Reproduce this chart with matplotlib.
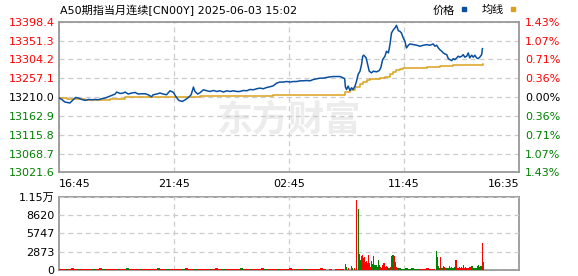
import numpy as np
import matplotlib
matplotlib.use("Agg")
import matplotlib.pyplot as plt
from matplotlib.lines import Line2D

plt.rcParams['font.family'] = ['DejaVu Sans', 'Noto Sans CJK SC']

# data ****************************************************************************************************************
title = "A50期指当月连续[CN00Y] 2025-06-03 15:02"
base_price = 13210.0
step = 47.1
time_labels = ["16:45", "21:45", "02:45", "11:45", "16:35"]
time_ticks = [0, 300, 600, 900, 1200]

# price line (minute index, price)
price_min = [1, 8, 16, 29, 38, 44, 51, 60, 69, 77, 86, 95, 103, 112, 121, 129, 138, 147, 151, 160,
             168, 173, 181, 190, 199, 207, 216, 225, 233, 242, 246, 255, 264, 272, 281, 290, 294, 299, 305, 313,
             322, 331, 338, 345, 351, 355, 362, 368, 377, 386, 394, 403, 412, 420, 429, 438, 446, 455, 464, 472,
             481, 490, 498, 507, 516, 524, 533, 542, 550, 559, 568, 576, 585, 594, 603, 611, 620, 629, 637, 646,
             655, 663, 672, 681, 689, 698, 707, 715, 724, 733, 745, 747, 750, 754, 759, 763, 767, 772, 776, 780,
             785, 789, 792, 795, 801, 804, 809, 815, 820, 828, 835, 839, 844, 850, 854, 859, 863, 867, 872, 876,
             880, 885, 889, 893, 897, 902, 906, 911, 915, 924, 933, 941, 950, 959, 967, 976, 980, 985, 989, 993,
             998, 1002, 1006, 1011, 1015, 1019, 1024, 1028, 1032, 1037, 1041, 1045, 1050, 1054, 1058, 1063, 1067,
             1071, 1076, 1080, 1084, 1089, 1093, 1097, 1102, 1104]
price = [13207.5, 13204.0, 13197.5, 13195.1, 13203.3, 13209.0, 13207.5, 13204.0, 13201.5, 13204.0,
         13203.3, 13204.0, 13203.3, 13205.8, 13207.5, 13210.7, 13214.0, 13217.5, 13222.5, 13219.0,
         13220.0, 13222.5, 13217.5, 13220.0, 13221.5, 13217.5, 13218.2, 13218.2, 13215.7, 13210.7,
         13215.7, 13217.5, 13220.0, 13217.5, 13215.7, 13225.7, 13223.9, 13221.5, 13211.5, 13201.5,
         13199.0, 13204.0, 13209.0, 13215.7, 13234.9, 13223.9, 13217.5, 13220.7, 13228.2, 13225.7,
         13223.9, 13226.4, 13223.9, 13225.7, 13222.5, 13225.7, 13223.9, 13225.7, 13223.9, 13223.9,
         13226.4, 13225.7, 13228.9, 13228.2, 13230.7, 13232.4, 13230.7, 13233.9, 13235.6, 13238.1,
         13244.9, 13247.4, 13247.4, 13248.8, 13247.4, 13248.8, 13248.8, 13250.6, 13250.6, 13251.3,
         13250.6, 13253.8, 13255.6, 13257.3, 13257.3, 13258.8, 13260.5, 13261.3, 13261.3, 13261.3,
         13256.3, 13234.9, 13228.9, 13237.4, 13226.4, 13233.2, 13228.9, 13237.4, 13249.8, 13266.3,
         13274.7, 13291.2, 13312.1, 13314.6, 13307.9, 13295.4, 13274.7, 13270.5, 13274.7, 13273.0,
         13276.2, 13283.0, 13303.6, 13312.1, 13324.5, 13320.3, 13341.0, 13370.1, 13378.3, 13382.6,
         13389.3, 13375.8, 13374.3, 13370.1, 13359.4, 13349.4, 13332.8, 13339.5, 13342.7, 13341.0,
         13339.5, 13337.0, 13339.5, 13341.0, 13339.5, 13342.7, 13337.0, 13339.5, 13332.8, 13328.5,
         13324.5, 13320.3, 13317.8, 13316.1, 13306.1, 13303.6, 13301.1, 13306.1, 13303.6, 13307.9,
         13312.1, 13309.6, 13312.1, 13316.1, 13309.6, 13312.1, 13320.3, 13307.9, 13314.6, 13309.6,
         13314.6, 13307.9, 13306.1, 13309.6, 13316.1, 13331.0]

# average line
avg_min = [0, 21, 69, 134, 173, 290, 368, 472, 558, 707, 746, 759, 772, 785, 793, 802, 811, 837, 850,
           863, 872, 880, 889, 897, 959, 993, 1028, 1063, 1105]
avg = [13207.5, 13204.5, 13203.3, 13205.8, 13209.0, 13210.0, 13212.5, 13212.5, 13215.0, 13215.7,
       13222.5, 13228.2, 13233.9, 13241.4, 13248.1, 13252.3, 13254.8, 13258.1, 13259.8, 13268.0,
       13273.0, 13278.0, 13281.2, 13283.0, 13284.7, 13287.2, 13289.7, 13291.2, 13292.9]

# volume: quiet night session (8 min buckets)
night_vol = [230, 200, 220, 190, 240, 210, 200, 230, 220, 190, 210, 200, 230, 240, 190, 200, 220, 210, 230, 200,
             190, 220, 240, 210, 200, 230, 220, 190, 210, 230, 200, 220, 240, 190, 210, 200, 230, 220, 200, 210,
             190, 240, 220, 200, 230, 210, 190, 220, 200, 230, 210, 240, 200, 220, 190, 230, 210, 200, 220, 240,
             200, 210, 230, 190, 220, 200, 240, 210, 230, 200, 220, 190, 210, 230, 200, 240, 220, 210, 200, 230,
             190, 220, 210, 230, 200, 240, 160, 0, 170, 0, 200, 230, 210]
night_dir = ("rrgrrrgrrr" "rgrrgrrrrg" "rrgrrrgrrr" "rrgrrgrrrr" "grrrgrrrrg"
             "rrrgrrrrrg" "rrgrrrrgrr" "rgrrrrrgrr" "grrrrrrrrr" "rrr")

# volume: morning open (per minute)
open_min = [746, 748, 754, 761, 764, 769, 774, 776, 780, 782, 785, 788, 790, 793, 795, 798, 801, 803, 806, 809,
            811, 814, 816, 819, 822, 824, 827, 829, 832, 835, 837, 840, 843, 845, 848, 850, 853, 856, 858, 861,
            863, 866, 869, 871, 874, 877, 879, 882]
open_vol = [958, 532, 240, 640, 270, 240, 10900, 5700, 9470, 2500, 1600, 2130, 2290, 1860, 2020, 1330, 1440,
            1060, 2390, 1060, 530, 1440, 900, 2130, 800, 800, 800, 530, 1600, 800, 530, 270, 800, 1060, 1120,
            530, 640, 530, 270, 370, 530, 2130, 2390, 2290, 2130, 1330, 530, 370]
open_dir = "ggrrgrrrgrgrrgrgrrrgrrgrgggrgrrgrrrgrrgrrrgrrgrg"[:48]

# volume: midday lull (8 min buckets)
lull_vol = [240, 230, 250, 220, 240, 230, 210, 230, 220, 240, 230, 220]
lull_dir = "gggggggrrrrr"

# volume: afternoon (per minute)
pm_min = [983, 985, 988, 991, 993, 996, 999, 1001, 1004, 1006, 1009, 1012, 1014, 1017, 1019, 1022, 1025, 1027,
          1030, 1032, 1035, 1038, 1040, 1043, 1045, 1048, 1051, 1053, 1056, 1058, 1061, 1064, 1066, 1069, 1071,
          1074, 1077, 1079, 1082, 1084, 1087, 1090, 1092, 1095, 1097, 1100, 1103, 1105]
pm_vol = [3030, 1970, 640, 240, 1970, 240, 240, 690, 530, 270, 270, 270, 270, 640, 370, 530, 370, 370, 530,
          1600, 1600, 370, 240, 530, 240, 530, 370, 800, 370, 530, 270, 370, 240, 530, 530, 690, 640, 270, 240,
          240, 270, 640, 800, 530, 640, 640, 4150, 1230]
pm_dir = "grggrgggrggrgrgrgrgrrgrgrgrgrgrgrrrggrgrgrgrggrg"[:48]

vol_top = 11493

# colours
c_price = "#0a50a1"
c_avg = "#dba11c"
c_up = "#ff0000"
c_dn = "#008000"
c_grid = "#cccccc"
c_frame = "#999999"


def dir_colors(d):
    return [c_up if ch == "r" else c_dn for ch in d]


fig = plt.figure(figsize=(5.78, 2.76), dpi=100)
ax = fig.add_axes([0.1016, 0.3754, 0.7968, 0.546])
axv = fig.add_axes([0.1016, 0.0217, 0.7968, 0.2663])

# main price panel
ax.text(0.5, 0.35, "东方财富", transform=ax.transAxes, ha="center", va="center", fontsize=26,
        fontweight="bold", fontstyle="italic", color="#ececec", family=["Noto Sans CJK SC"], zorder=0)
ax.plot(avg_min, avg, color=c_avg, lw=1.1, drawstyle="steps-post", zorder=3)
ax.plot(price_min, price, color=c_price, lw=1.1, zorder=4)

ylo = base_price - 4 * step
yhi = base_price + 4 * step
yt = [base_price + k * step for k in range(-4, 5)]
ax.set_ylim(ylo, yhi)
ax.set_xlim(0, 1200)
ax.set_yticks(yt)
ax.set_yticklabels(["%.1f" % v for v in yt], fontsize=8)
for lab, v in zip(ax.get_yticklabels(), yt):
    lab.set_color(c_up if v > base_price + 0.01 else (c_dn if v < base_price - 0.01 else "black"))
ax.set_xticks(time_ticks)
ax.set_xticklabels(time_labels, fontsize=8)
xl = ax.get_xticklabels()
xl[0].set_ha("left")
xl[-1].set_ha("right")
ax.tick_params(length=0, pad=3)
ax.tick_params(axis="x", pad=5)
ax.grid(True, color=c_grid, ls=(0, (4, 3)), lw=0.9)
for s in ax.spines.values():
    s.set_color(c_frame)
    s.set_linewidth(1.3)

ax2 = ax.twinx()
ax2.set_ylim(ylo, yhi)
ax2.set_yticks(yt)
ax2.set_yticklabels(["%.2f%%" % (abs(v - base_price) / base_price * 100) for v in yt], fontsize=8)
for lab, v in zip(ax2.get_yticklabels(), yt):
    lab.set_color(c_up if v > base_price + 0.01 else (c_dn if v < base_price - 0.01 else "black"))
ax2.tick_params(length=0, pad=4)
for s in ax2.spines.values():
    s.set_visible(False)

fig.text(0.104, 0.963, title, fontsize=8, va="center", ha="left")
hnd = [Line2D([], [], color=c_price, marker="s", ls="", ms=3),
       Line2D([], [], color=c_avg, marker="s", ls="", ms=3)]
fig.legend(hnd, ["价格", "均线"], ncol=2, markerfirst=False, frameon=False, fontsize=8,
           loc="center right", bbox_to_anchor=(0.905, 0.963), handlelength=0.8, handletextpad=0.4,
           columnspacing=1.2, borderpad=0)

# volume panel
night_min = np.arange(0, 8 * len(night_vol), 8)
lull_min = np.arange(885, 885 + 8 * len(lull_vol), 8)
axv.bar(night_min, night_vol, width=8, align="edge", color=dir_colors(night_dir), lw=0)
axv.bar(lull_min, lull_vol, width=8, align="edge", color=dir_colors(lull_dir), lw=0)
axv.bar(open_min, open_vol, width=2.4, align="edge", color=dir_colors(open_dir), lw=0)
axv.bar(pm_min, pm_vol, width=2.4, align="edge", color=dir_colors(pm_dir), lw=0)
axv.set_xlim(0, 1200)
axv.set_ylim(0, vol_top)
vt = [0, 2873, 5747, 8620, vol_top]
axv.set_yticks(vt)
axv.set_yticklabels(["0", "2873", "5747", "8620", "1.15万"], fontsize=8)
axv.set_xticks(time_ticks[1:-1])
axv.set_xticklabels([])
axv.tick_params(length=0, pad=3)
axv.grid(True, color=c_grid, ls=(0, (4, 3)), lw=0.9)
axv.set_axisbelow(True)
for s in axv.spines.values():
    s.set_color(c_frame)
    s.set_linewidth(1.3)
    s.set_zorder(0.5)

fig.savefig("out.png", dpi=100)
